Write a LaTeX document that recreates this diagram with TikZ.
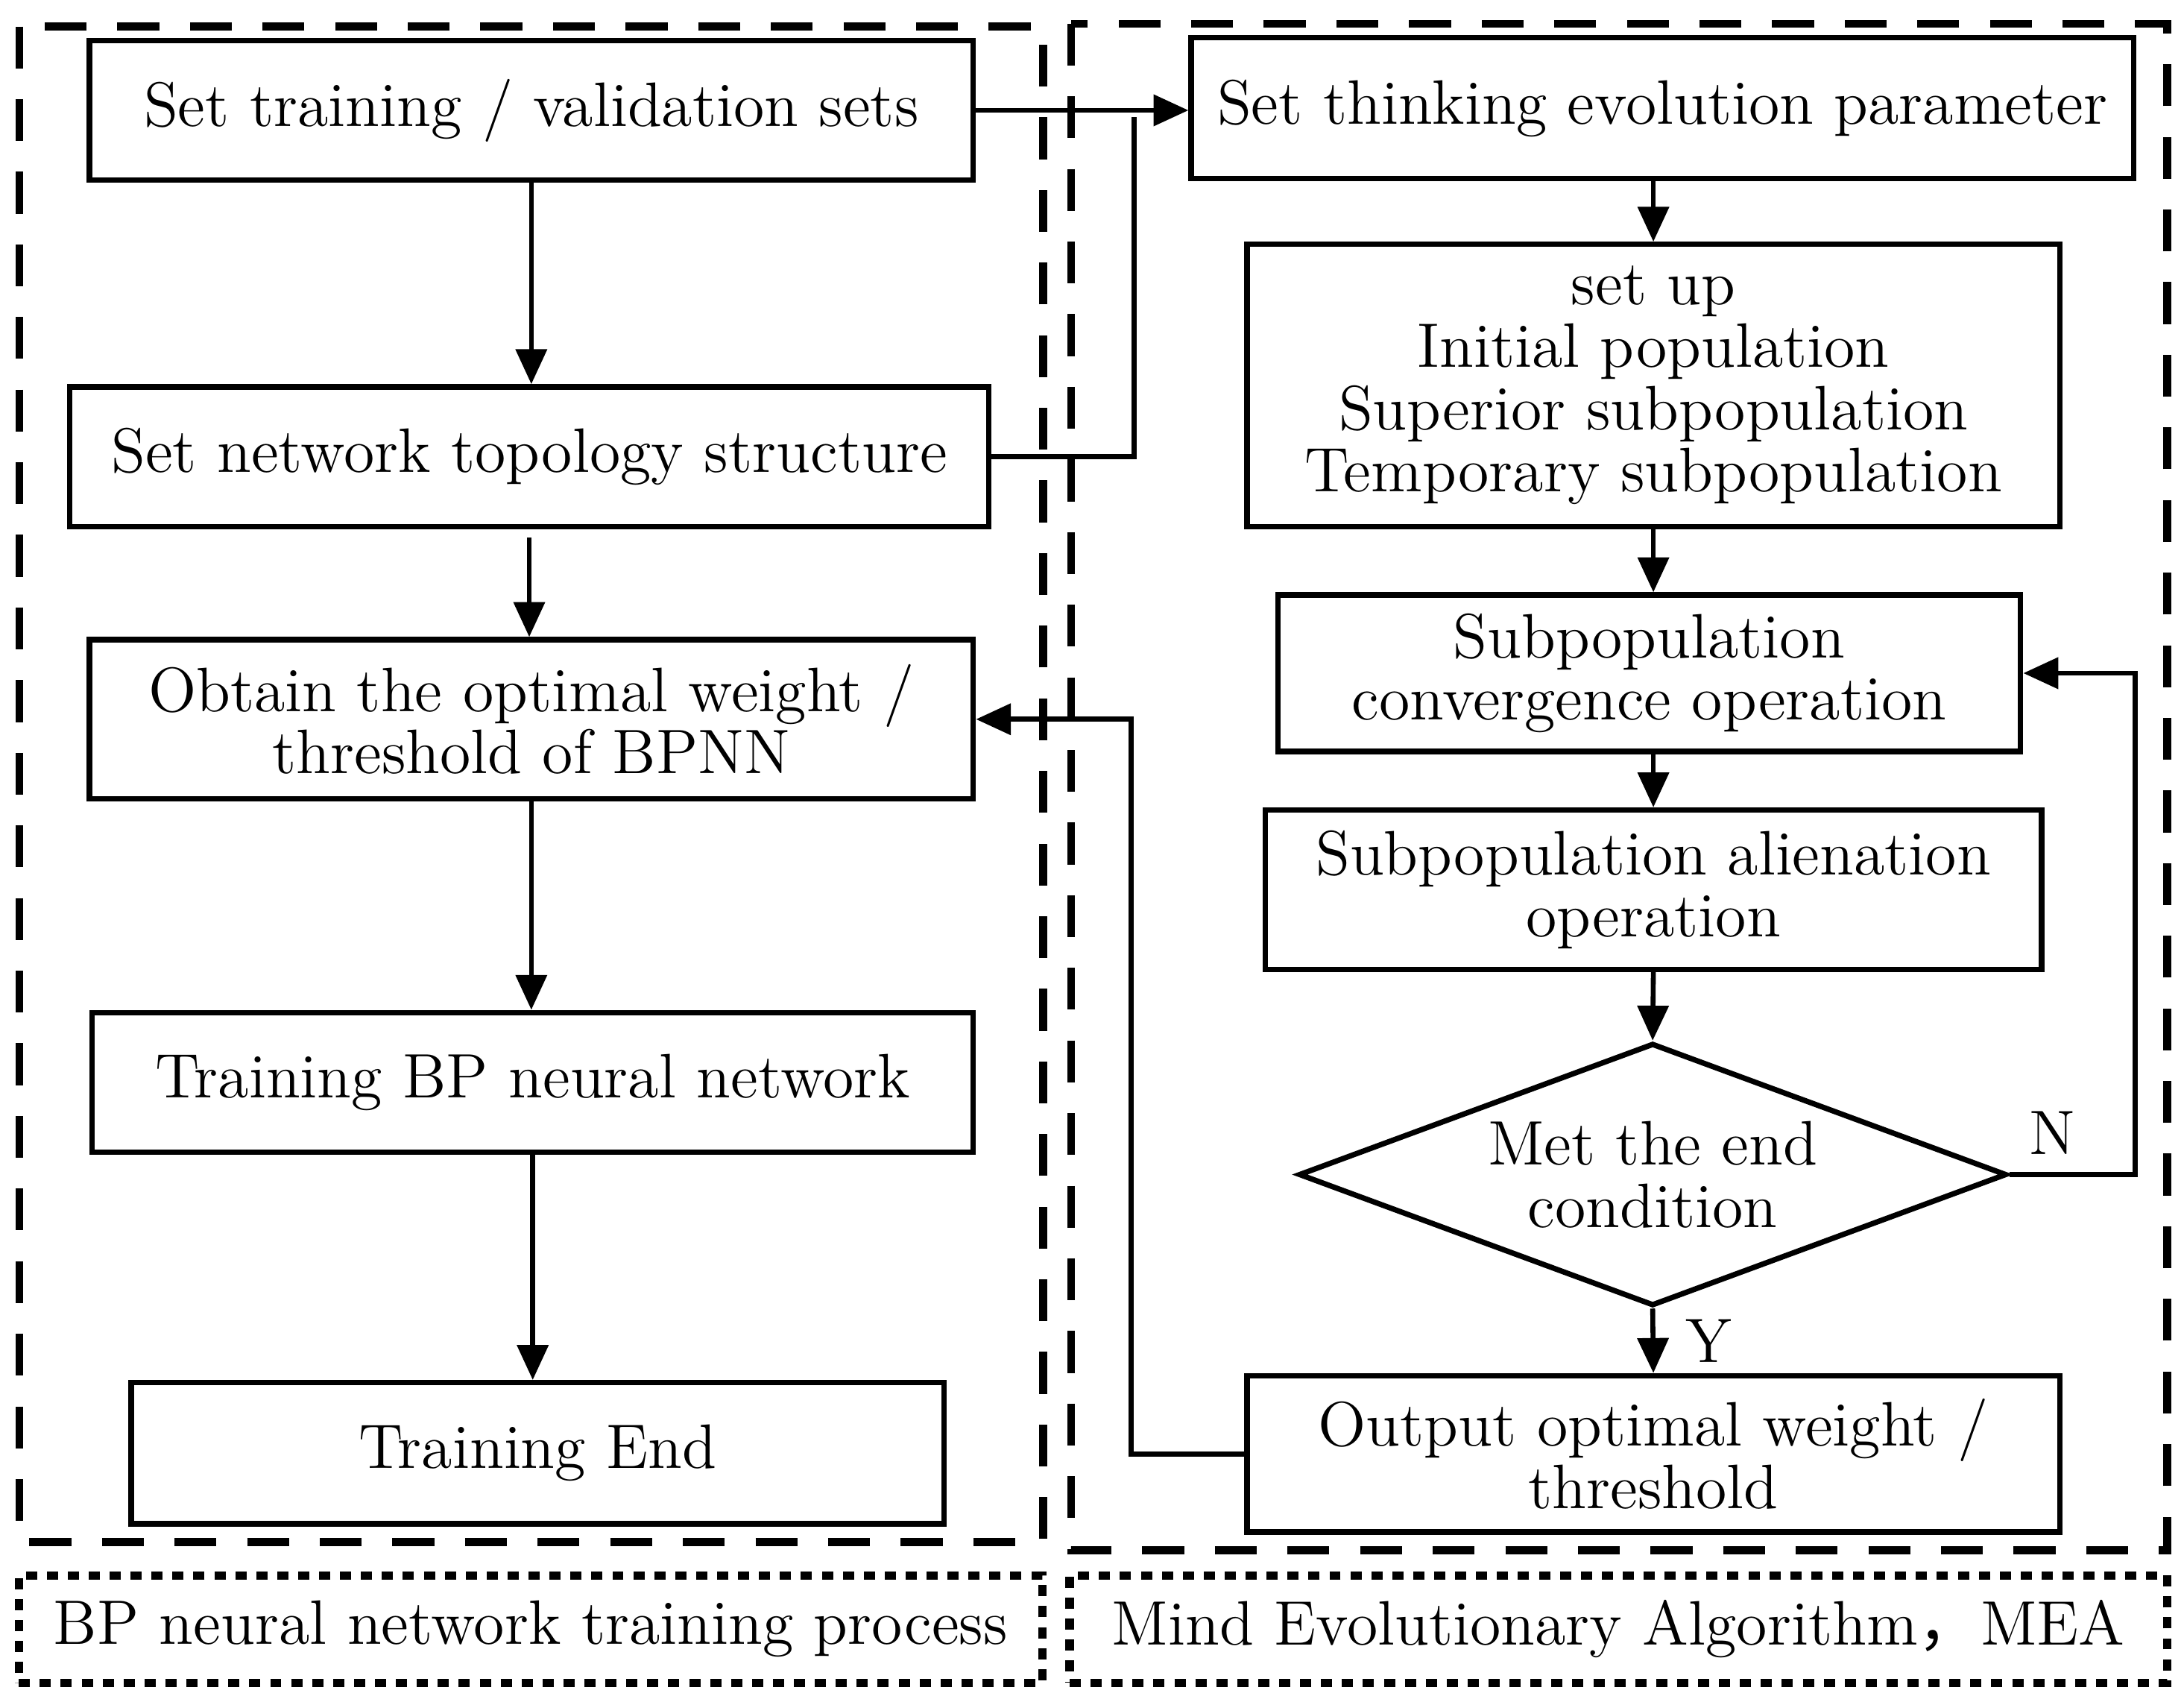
\documentclass[tikz,border=0pt]{standalone}
\usepackage{fontspec}
\newfontfamily\cjk{Noto Sans CJK SC}
\usetikzlibrary{positioning}
\usetikzlibrary{shapes.geometric}
\usetikzlibrary{arrows.meta}
\newcommand \boxfont {\fontsize{12.8}{12.7}\selectfont}
\tikzset{
	stepbox/.style={
		draw,
		line width=1.1pt,
		inner sep=0pt,
		align=center,
		font=\boxfont
	},
	decide/.style={
		stepbox,
		diamond,
		aspect=2.7
	},
	flow/.style={
		line width=1pt,
		-{Triangle[length=2.5mm,width=2.2mm]}
	},
	link/.style={
		line width=1pt
	},
	region/.style={
		line width=1.6pt,
		dash pattern=on 3mm off 2.2mm
	},
	caption/.style={
		line width=1.7pt,
		dash pattern=on 0.8mm off 0.7mm,
		font=\boxfont
	}
}

\begin{document}
\begin{tikzpicture}
	\useasboundingbox (0,0) rectangle (15.64,-12.16);

	% BP neural network side
	\node [stepbox, minimum width=6.33cm, minimum height=1cm] (trainset) at (3.805,-0.79) {Set training / validation sets};
	\node [stepbox, minimum width=6.58cm, minimum height=1cm] (topology) at (3.79,-3.27) {Set network topology structure};
	\node [stepbox, minimum width=6.33cm, minimum height=1.14cm] (optimal) at (3.805,-5.15) {Obtain the optimal weight /\\threshold of BPNN};
	\node [stepbox, minimum width=6.31cm, minimum height=1cm] (trainbp) at (3.815,-7.75) {Training BP neural network};
	\node [stepbox, minimum width=5.82cm, minimum height=1.01cm] (trainend) at (3.85,-10.405) {Training End};

	% MEA side
	\node [stepbox, minimum width=6.75cm, minimum height=1.01cm] (param) at (11.905,-0.775) {Set thinking evolution parameter};
	\node [stepbox, minimum width=5.82cm, minimum height=2.02cm] (popul) at (11.84,-2.76) {set up\\Initial population\\Superior subpopulation\\Temporary subpopulation};
	\node [stepbox, minimum width=5.32cm, minimum height=1.12cm] (converge) at (11.81,-4.82) {Subpopulation\\convergence operation};
	\node [stepbox, minimum width=5.56cm, minimum height=1.14cm] (alien) at (11.84,-6.37) {Subpopulation alienation\\operation};
	\node [decide, minimum width=5.07cm, minimum height=1.88cm] (endcond) at (11.835,-8.41) {Met the end\\condition};
	\node [stepbox, minimum width=5.82cm, minimum height=1.12cm] (output) at (11.84,-10.41) {Output optimal weight /\\threshold};

	\coordinate (join) at (8.12,-0.84);

	\draw [flow] (trainset.south) -- (trainset.south |- topology.north);
	\draw [flow, shorten <=0.6mm] (topology.south) -- (topology.south |- optimal.north);
	\draw [flow] (optimal.south) -- (optimal.south |- trainbp.north);
	\draw [flow] (trainbp.south) -- (trainbp.south |- trainend.north);

	\draw [flow] (trainset.east) -- (trainset.east -| param.west);
	\draw [link] (topology.east) -| (join);

	\draw [flow] (popul.north |- param.south) -- (popul.north);
	\draw [flow] (popul.south) -- (popul.south |- converge.north);
	\draw [flow] (popul.south |- converge.south) -- (popul.south |- alien.north);
	\draw [flow] (alien.south) -- (endcond.north);
	\draw [flow] (endcond.south) -- node [right=1mm, font=\boxfont] (yes) {Y} (output.north);
	\draw [flow] (endcond.east) -- ++(0.9,0) |- (converge.east);
	\node [font=\boxfont, above right=0.02cm and 0.02cm of endcond.east] (no) {N};
	\draw [flow] (output.west) -- ++(-0.81,0) |- (optimal.east);

	% regions
	\draw [region] (0.14,-0.19) rectangle (7.47,-11.04);
	\draw [region] (7.67,-0.17) rectangle (15.52,-11.10);
	\node [caption, draw, minimum width=7.33cm, minimum height=0.77cm] (bpcap) at (3.80,-11.665) {BP neural network training process};
	\node [caption, draw, minimum width=7.86cm, minimum height=0.77cm] (meacap) at (11.59,-11.665) {Mind Evolutionary Algorithm{\cjk ，}MEA};
\end{tikzpicture}
\end{document}
